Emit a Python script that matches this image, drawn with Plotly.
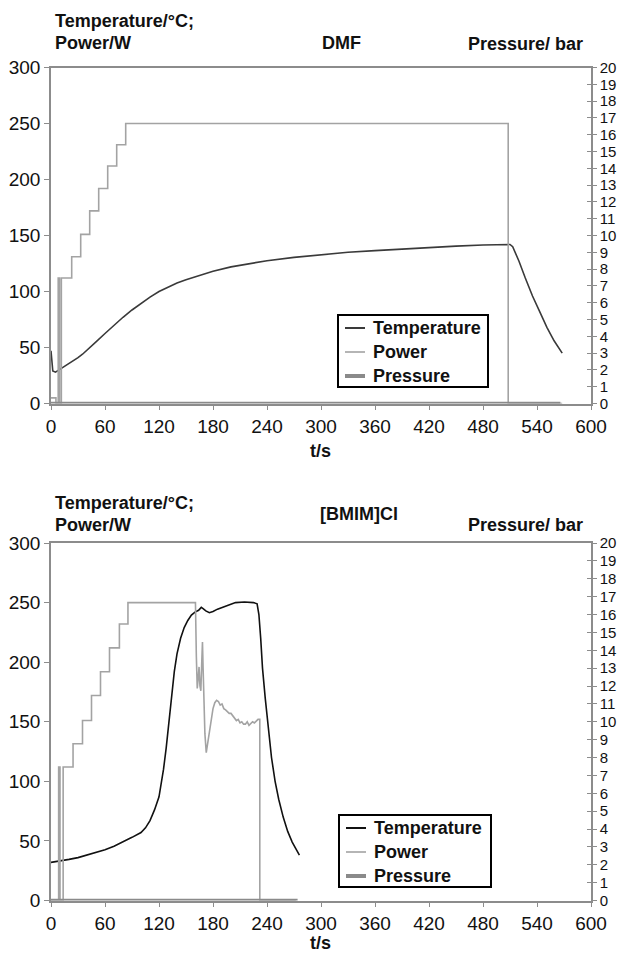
import plotly.graph_objects as go

W, H = 622, 956

# ---------------- DMF (top) ----------------
dmf_temp_t = [0, 2, 5, 10, 15, 20, 25, 30, 35, 40,
              50, 60, 70, 80, 90, 100, 110, 120, 130, 140,
              150, 165, 180, 200, 220, 240, 270, 300, 330, 360,
              390, 420, 450, 480, 510, 513, 520, 527, 535, 543,
              551, 559, 568]
dmf_temp = [47, 29, 28, 30.5, 33, 35.5, 38, 41, 44, 47.5,
            55, 62.5, 70, 77, 83.5, 89.5, 95, 100, 104, 107.5,
            110.5, 114.5, 118, 122, 125, 127.5, 130.5, 133, 135, 136.5,
            138, 139, 140.5, 141.5, 142, 140, 127, 112, 96, 82,
            68, 56, 45]
dmf_power_t = [0, 5.5, 8, 9.5, 11.5, 23, 33, 43, 53, 63, 73, 83, 508, 568]
dmf_power = [5, 0, 112, 0, 112, 131, 151, 172, 192, 212, 231, 250, 0, 0]
dmf_pressure_t = [0, 566]
dmf_pressure = [0, 0]

# ---------------- [BMIM]Cl (bottom) ----------------
bmim_temp_t = [0, 10, 20, 30, 40, 50, 60, 70, 80, 90,
               100, 105, 110, 115, 120, 125, 128, 131, 134, 137,
               140, 144, 148, 152, 156, 160, 164, 167, 169, 172,
               176, 180, 185, 190, 195, 200, 205, 215, 225, 229,
               231, 233, 235, 238, 241, 245, 249, 253, 258, 263,
               268, 272, 276]
bmim_temp = [32, 33, 34.5, 36, 38, 40, 42.5, 45.5, 49, 53,
             57, 61, 67, 76, 87, 110, 128, 150, 172, 192,
             207, 220, 229, 235, 239.5, 242, 243.5, 246, 245, 243,
             241.5, 242.5, 244.5, 246, 247.5, 249, 250, 250.5, 250, 249,
             240, 220, 195, 170, 148, 120, 100, 85, 70, 58,
             49, 43, 38]
bmim_power_t = [0, 8.5, 8.5, 10, 10, 13.5, 13.5, 24.5, 24.5, 35,
                35, 45, 45, 55, 55, 65, 65, 76, 76, 85.5,
                85.5, 160.5, 161.5, 162.5, 163.5, 164.5, 165.5, 166.5, 167.5, 168.3,
                169, 170, 171, 172.5, 174, 176, 178, 180, 182, 184,
                186, 188, 190, 192, 194, 196, 198, 200, 202, 204,
                206, 208, 210, 212, 214, 216, 218, 220, 222, 224,
                226, 228, 230, 232, 232, 272]
bmim_power = [0, 0, 112, 112, 0, 0, 112, 112, 131.5, 131.5,
              151, 151, 172, 172, 192, 192, 212, 212, 232, 232,
              250, 250, 205, 178, 186, 196, 180, 176, 200, 217,
              195, 162, 140, 124, 131, 143, 153, 161, 166, 168,
              167, 164, 165, 161, 160, 158, 157, 157, 155, 154,
              151, 152, 149, 150, 148, 148, 150, 147, 149, 150,
              149, 151, 152, 152, 0, 0]
bmim_pressure_t = [0, 274]
bmim_pressure = [0, 0]

x_ticks = list(range(0, 601, 60))
left_ticks = list(range(0, 301, 50))
right_ticks = list(range(0, 21))
series_names = ["Temperature", "Power", "Pressure"]

FONT = "Liberation Sans, Arial, sans-serif"
TEMP_TOP = "#3a3a3a"
TEMP_BOT = "#111111"
POWER_C = "#a3a3a3"
PRESS_C = "#8a8a8a"
AXIS_C = "#8c8c8c"
TXT = "#111111"
TEMP_W, POWER_W, PRESS_W = 1.6, 1.6, 3.5


def fy(p):
    return 1 - p / H


X_DOM = [51 / W, 591 / W]
TOP_DOM = [fy(403.5), fy(67.5)]
BOT_DOM = [fy(900.5), fy(543)]

fig = go.Figure()

# top traces
fig.add_trace(go.Scatter(x=dmf_temp_t, y=dmf_temp, mode="lines", name=series_names[0],
                         line=dict(color=TEMP_TOP, width=TEMP_W), xaxis="x", yaxis="y"))
fig.add_trace(go.Scatter(x=dmf_power_t, y=dmf_power, mode="lines", name=series_names[1],
                         line=dict(color=POWER_C, width=POWER_W, shape="hv"), xaxis="x", yaxis="y"))
fig.add_trace(go.Scatter(x=dmf_pressure_t, y=dmf_pressure, mode="lines", name=series_names[2],
                         line=dict(color=PRESS_C, width=PRESS_W), xaxis="x", yaxis="y2"))

# bottom traces
fig.add_trace(go.Scatter(x=bmim_temp_t, y=bmim_temp, mode="lines", name=series_names[0],
                         line=dict(color=TEMP_BOT, width=TEMP_W), xaxis="x2", yaxis="y3"))
fig.add_trace(go.Scatter(x=bmim_power_t, y=bmim_power, mode="lines", name=series_names[1],
                         line=dict(color=POWER_C, width=POWER_W), xaxis="x2", yaxis="y3"))
fig.add_trace(go.Scatter(x=bmim_pressure_t, y=bmim_pressure, mode="lines", name=series_names[2],
                         line=dict(color=PRESS_C, width=PRESS_W), xaxis="x2", yaxis="y4"))

# empty helper traces so the inner-tick overlay axes get drawn
for ya, xa in (("y5", "x"), ("y6", "x2")):
    fig.add_trace(go.Scatter(x=[None], y=[None], mode="lines", xaxis=xa, yaxis=ya,
                             showlegend=False, hoverinfo="skip"))

tickfont = dict(family=FONT, size=19, color=TXT)
rtickfont = dict(family=FONT, size=15, color=TXT)


def xax(anchor):
    return dict(domain=X_DOM, range=[0, 600], tickvals=x_ticks, ticks="outside", ticklen=5,
                tickcolor=AXIS_C, tickwidth=1.2, showline=True, linecolor=AXIS_C, linewidth=1.5,
                mirror=True, showgrid=False, zeroline=False, anchor=anchor, tickfont=tickfont,
                automargin=False, fixedrange=True)


def lax(dom, anchor):
    return dict(domain=dom, range=[0, 300], tickvals=left_ticks, ticks="outside", ticklen=5,
                tickcolor=AXIS_C, tickwidth=1.2, showline=True, linecolor=AXIS_C, linewidth=1.5,
                showgrid=False, zeroline=False, anchor=anchor, tickfont=tickfont,
                automargin=False, fixedrange=True)


def rax(over, anchor, inner=False):
    d = dict(overlaying=over, side="right", range=[0, 20], tickvals=right_ticks,
             ticks="inside" if inner else "outside", ticklen=4, tickcolor=AXIS_C, tickwidth=1.2,
             showline=True, linecolor=AXIS_C, linewidth=1.5, showgrid=False, zeroline=False,
             anchor=anchor, tickfont=rtickfont, automargin=False, fixedrange=True)
    if inner:
        d["showticklabels"] = False
    return d


annotations = []
shapes = []


def txt(s, x, y, xanchor="left", size=18):
    annotations.append(dict(text="<b>" + s + "</b>", x=x / W, y=fy(y), xref="paper", yref="paper",
                            xanchor=xanchor, yanchor="middle", showarrow=False,
                            font=dict(family=FONT, size=size, color=TXT)))


def legend_box(x0, y0, x1, y1, temp_color):
    shapes.append(dict(type="rect", xref="paper", yref="paper", x0=x0 / W, x1=x1 / W,
                       y0=fy(y1), y1=fy(y0), line=dict(color="black", width=2),
                       fillcolor="white", layer="above"))
    styles = [(temp_color, TEMP_W + 0.4), (POWER_C, POWER_W), (PRESS_C, PRESS_W + 0.5)]
    step = (y1 - y0) / 3.0
    for i, (name, (col, wd)) in enumerate(zip(series_names, styles)):
        yc = y0 + step * (i + 0.5) + 1
        shapes.append(dict(type="line", xref="paper", yref="paper", x0=(x0 + 7) / W,
                           x1=(x0 + 27) / W, y0=fy(yc), y1=fy(yc),
                           line=dict(color=col, width=wd), layer="above"))
        txt(name, x0 + 33, yc, size=18)


legend_box(338, 315, 488, 387, TEMP_TOP)
legend_box(339, 815, 491, 887, TEMP_BOT)

# top titles
txt("Temperature/°C;", 53, 21)
txt("Power/W", 53, 43)
txt("DMF", 341, 43, "center")
txt("Pressure/ bar", 585, 44, "right")
txt("t/s", 321, 451, "center")
# bottom titles
txt("Temperature/°C;", 53, 503)
txt("Power/W", 53, 525)
txt("[BMIM]Cl", 359, 514, "center")
txt("Pressure/ bar", 585, 525, "right")
txt("t/s", 321, 943, "center")

fig.update_layout(
    template="none",
    width=W, height=H, margin=dict(l=0, r=0, t=0, b=0, autoexpand=False),
    paper_bgcolor="white", plot_bgcolor="white",
    xaxis=xax("y"), yaxis=lax(TOP_DOM, "x"), yaxis2=rax("y", "x"),
    yaxis5=rax("y", "x", inner=True),
    xaxis2=xax("y3"), yaxis3=lax(BOT_DOM, "x2"), yaxis4=rax("y3", "x2"),
    yaxis6=rax("y3", "x2", inner=True),
    annotations=annotations, shapes=shapes, showlegend=False,
)

fig.write_html("out.html")
